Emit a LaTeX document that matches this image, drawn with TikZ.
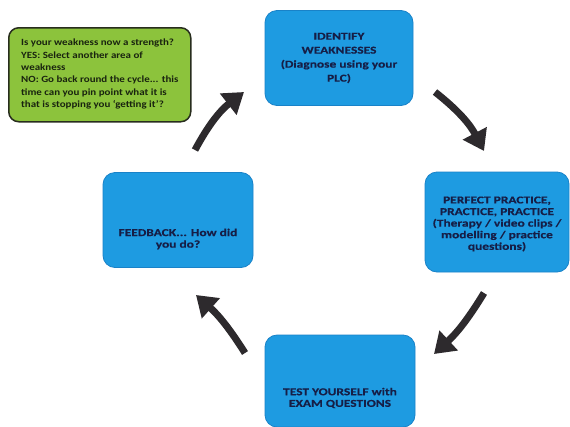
\documentclass[tikz,border=0pt]{standalone}
\usepackage{fontspec}
\setmainfont[FakeStretch=1.15]{Carlito}
\newfontfamily\boxfont[FakeStretch=1.28,FakeBold=0.4]{Carlito}
\usetikzlibrary{arrows.meta}
\definecolor{boxblue}{RGB}{30,155,225}
\definecolor{boxblueedge}{RGB}{25,130,200}
\definecolor{navytext}{RGB}{22,30,70}
\definecolor{boxgreen}{RGB}{140,195,60}
\definecolor{greenedge}{RGB}{40,45,30}
\definecolor{greentext}{RGB}{25,35,15}
\definecolor{arrowgray}{RGB}{45,42,45}
\tikzset{
  bluebox/.style={draw=boxblueedge, line width=0.8pt, fill=boxblue, rounded corners=12pt,
    text=navytext, align=center, inner sep=0pt},
  greenbox/.style={draw=greenedge, line width=1.5pt, fill=boxgreen, rounded corners=10pt, inner sep=0pt},
  boxtext/.style={text=navytext, align=center, inner sep=0pt},
  cyclearrow/.style={draw=arrowgray, line width=7pt, -{Triangle[length=20pt,width=26pt]}}
}
\begin{document}
\begin{tikzpicture}[x=1pt,y=-1pt]
\fill[white] (0,0) rectangle (570,426);
\useasboundingbox (0,0) rectangle (570,426);
% boxes
\node[greenbox, minimum width=182pt, minimum height=94pt, anchor=north west] (green) at (8,27) {};
\node[anchor=north west, text=greentext, font=\bfseries\fontsize{9.5}{12.3}\selectfont, align=left, inner sep=0pt] (greentxt) at (21,39)
  {Is your weakness now a strength?\\YES: Select another area of\\weakness\\NO: Go back round the cycle... this\\time can you pin point what it is\\that is stopping you `getting it'?};
\node[bluebox, minimum width=148pt, minimum height=95pt] (identify) at (339,58) {};
\node[boxtext, font=\boxfont\bfseries\fontsize{10.5}{14}\selectfont] (identifytxt) at (identify)
  {IDENTIFY\\WEAKNESSES\\(Diagnose using your\\PLC)};
\node[bluebox, minimum width=144pt, minimum height=100pt] (practice) at (497,222) {};
\node[boxtext, font=\boxfont\bfseries\fontsize{10.5}{11.6}\selectfont] (practicetxt) at ([yshift=-2pt]practice)
  {PERFECT PRACTICE,\\PRACTICE, PRACTICE\\(Therapy / video clips /\\modelling / practice\\questions)};
\node[bluebox, minimum width=150pt, minimum height=92pt] (test) at (340,381) {};
\node[boxtext, font=\boxfont\bfseries\fontsize{10.5}{11.6}\selectfont] (testtxt) at (340,398)
  {TEST YOURSELF with\\EXAM QUESTIONS};
\node[bluebox, minimum width=150pt, minimum height=95pt] (feedback) at (178,220) {};
\node[boxtext, font=\boxfont\bfseries\fontsize{10.5}{11.6}\selectfont] (feedbacktxt) at (178,239)
  {FEEDBACK... How did\\you do?};
% arrows
\coordinate (a1s) at (195,150); \coordinate (a1e) at (244,92);
\coordinate (a2s) at (435,92);  \coordinate (a2e) at (484,151);
\coordinate (a3s) at (484,293); \coordinate (a3e) at (434,354);
\coordinate (a4s) at (245,353); \coordinate (a4e) at (196,295);
\draw[cyclearrow] (a1s) to[bend left=12] (a1e);
\draw[cyclearrow] (a2s) to[bend left=12] (a2e);
\draw[cyclearrow] (a3s) to[bend left=8] (a3e);
\draw[cyclearrow] (a4s) to[bend right=8] (a4e);
\end{tikzpicture}
\end{document}
